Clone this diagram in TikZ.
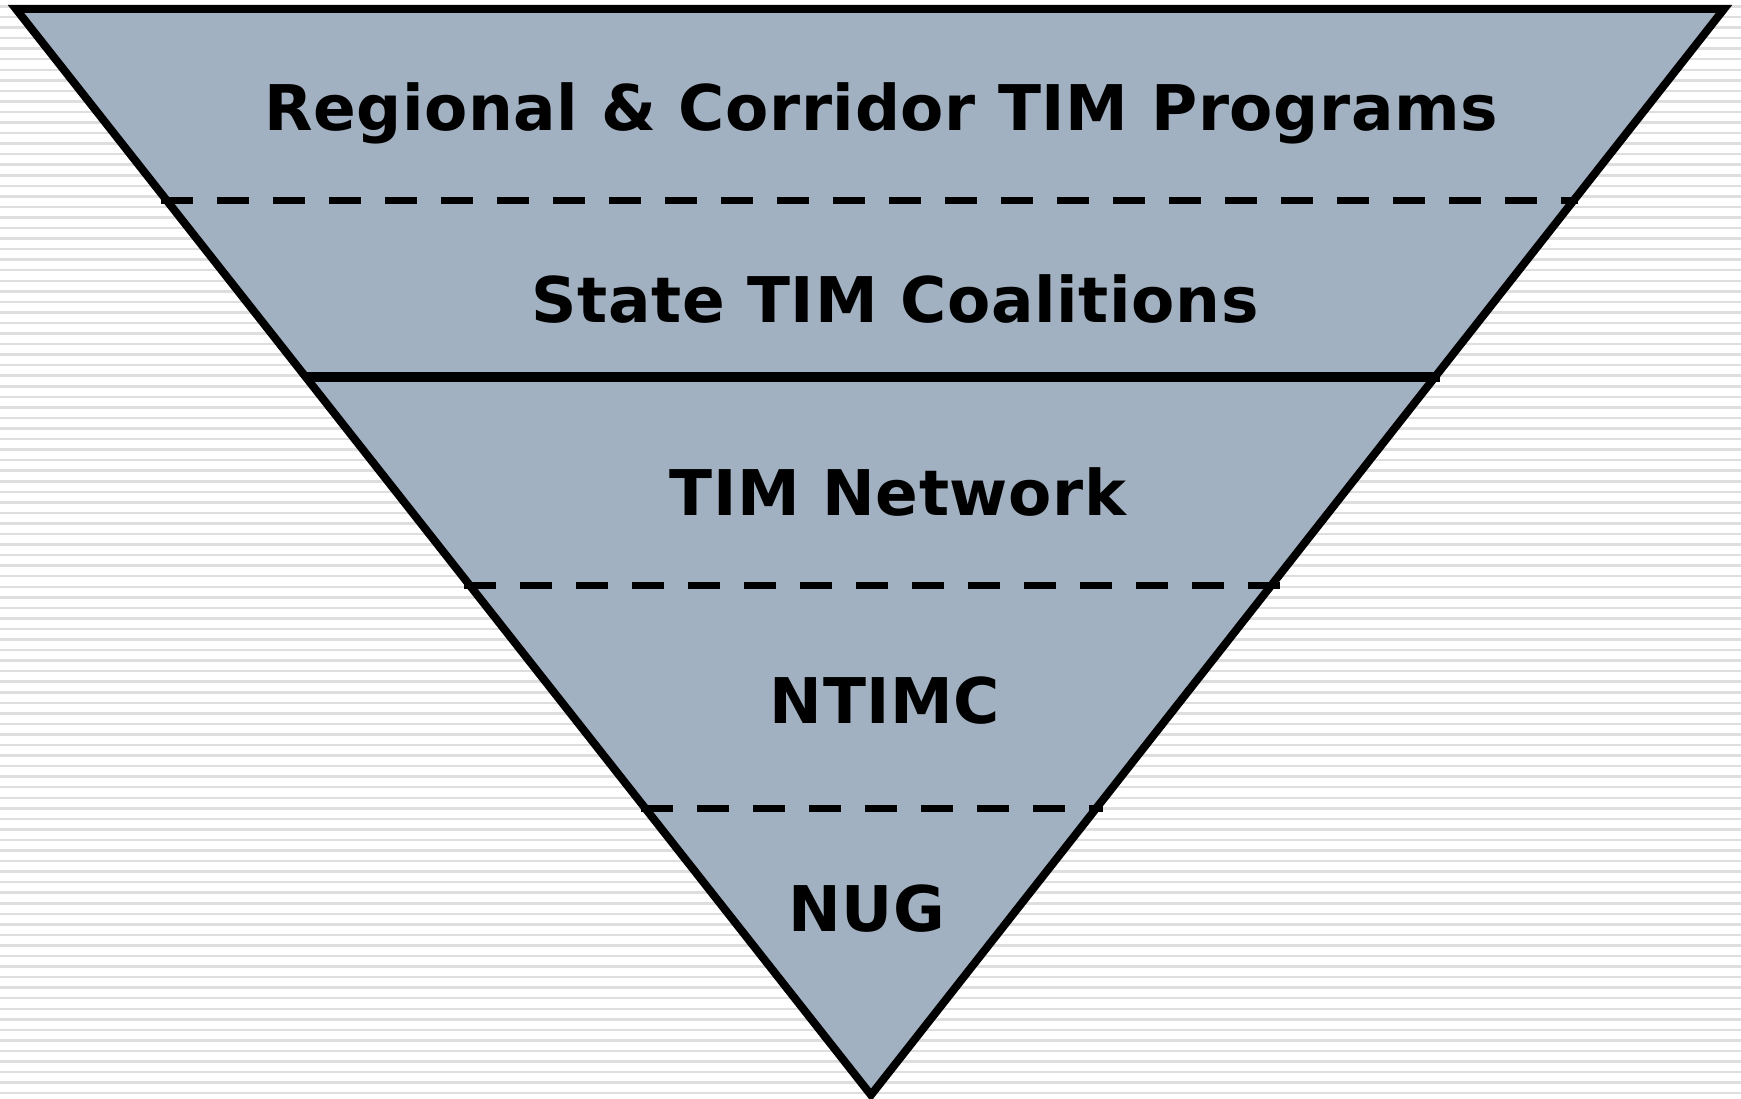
\documentclass[tikz,border=0pt]{standalone}
\usepackage{fontspec}
\setmainfont{DejaVu Sans}
\newfontfamily\lblfont[LetterSpace=1.0]{DejaVu Sans}
\definecolor{layerfill}{RGB}{162,177,193}
\definecolor{stripecol}{RGB}{222,222,222}
\begin{document}
\begin{tikzpicture}[x=1pt,y=-1pt,
  stripe/.style={draw=stripecol,line width=2.5pt},
  outline/.style={draw=black,line width=8pt,line join=miter,fill=layerfill},
  divider/.style={draw=black,line width=7pt,dash pattern=on 32pt off 24pt},
  solidsep/.style={draw=black,line width=10pt},
  lbl/.style={font=\lblfont\fontsize{63}{70}\selectfont\bfseries,anchor=base,inner sep=0pt}]
\useasboundingbox (0,0) rectangle (1741,1099);
\fill[white] (0,0) rectangle (1741,1099);
\foreach \i in {0,...,104} \draw[stripe] (0,{6.5+\i*10.55}) -- (1741,{6.5+\i*10.55});
% triangle
\coordinate (tl) at (16,9);
\coordinate (tr) at (1724,9);
\coordinate (apex) at (871,1095);
\draw[outline] (tl) -- (tr) -- (apex) -- cycle;
% separators
\coordinate (d1l) at (161,201); \coordinate (d1r) at (1578,201);
\coordinate (sl) at (305,377);  \coordinate (sr) at (1440,377);
\coordinate (d2l) at (464,585); \coordinate (d2r) at (1280,585);
\coordinate (d3l) at (641,808); \coordinate (d3r) at (1103,808);
\draw[divider] (d1l) -- (d1r);
\draw[solidsep] (sl) -- (sr);
\draw[divider] (d2l) -- (d2r);
\draw[divider] (d3l) -- (d3r);
% labels
\node[lbl] (t1) at (881,131) {Regional \& Corridor TIM Programs};
\node[lbl] (t2) at (895,323) {State TIM Coalitions};
\node[lbl] (t3) at (898,515) {TIM Network};
\node[lbl] (t4) at (885,723) {NTIMC};
\node[lbl] (t5) at (867,931) {NUG};
\end{tikzpicture}
\end{document}
